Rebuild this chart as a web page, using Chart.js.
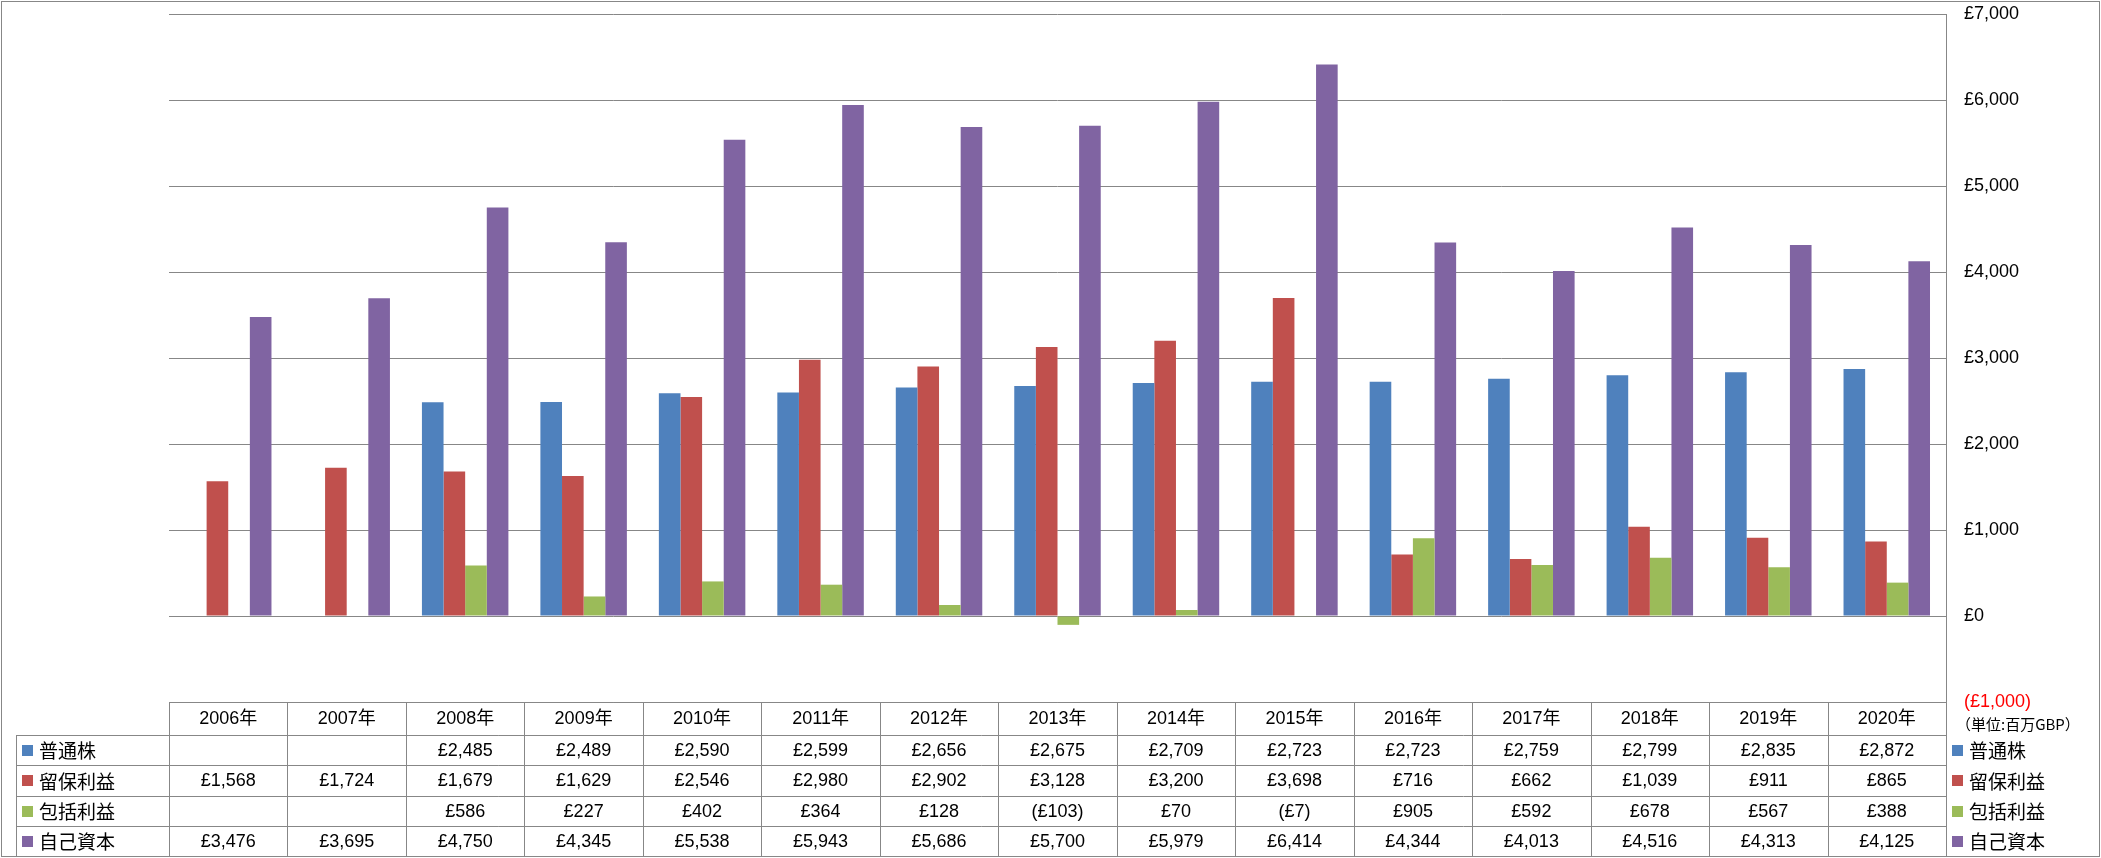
<!DOCTYPE html>
<html>
<head>
<meta charset="utf-8">
<script src="https://cdn.jsdelivr.net/npm/chart.js@4"></script>
<style>
  html, body { margin: 0; padding: 0; background: #fff; }
  #wrap { width: 2101px; height: 858px; position: relative; }
</style>
</head>
<body>
<div id="wrap"><canvas id="chart"></canvas></div>
<script>
const years = ['2006年', '2007年', '2008年', '2009年', '2010年', '2011年', '2012年', '2013年',
  '2014年', '2015年', '2016年', '2017年', '2018年', '2019年', '2020年'];
const seriesNames = ['普通株', '留保利益', '包括利益', '自己資本'];
const seriesColors = ['#4F81BD', '#C0504D', '#9BBB59', '#8064A2'];
const commonStock = [null, null, 2485, 2489, 2590, 2599, 2656, 2675, 2709, 2723, 2723, 2759, 2799, 2835, 2872];
const retainedEarnings = [1568, 1724, 1679, 1629, 2546, 2980, 2902, 3128, 3200, 3698, 716, 662, 1039, 911, 865];
const comprehensiveIncome = [null, null, 586, 227, 402, 364, 128, -103, 70, -7, 905, 592, 678, 567, 388];
const totalEquity = [3476, 3695, 4750, 4345, 5538, 5943, 5686, 5700, 5979, 6414, 4344, 4013, 4516, 4313, 4125];
const unitLabel = '（単位:百万GBP）';

const lineColor = '#878787';
const numFont = '18px "Liberation Sans", "Noto Sans CJK JP", sans-serif';
const jpFont = '19px "Noto Sans CJK JP", sans-serif';

function money(v) {
  if (v === null || v === undefined) return '';
  const s = '£' + Math.abs(v).toLocaleString('en-US');
  return v < 0 ? '(' + s + ')' : s;
}

const allSeries = [commonStock, retainedEarnings, comprehensiveIncome, totalEquity];

// draws the data table under the plot, the right legend and the outer frame
const tablePlugin = {
  id: 'dataTable',
  afterDraw(chart) {
    const ctx = chart.ctx;
    const area = chart.chartArea;
    const x = chart.scales.x;
    const colW = (area.right - area.left) / years.length;
    const top = area.bottom;
    const headBottom = top + 33;
    const bottom = 856;
    const rowH = (bottom - headBottom) / 4;
    const legendLeft = 16.5;

    ctx.save();
    ctx.strokeStyle = lineColor;
    ctx.lineWidth = 1;

    ctx.beginPath();
    // header top
    ctx.moveTo(area.left, top + 0.5); ctx.lineTo(area.right, top + 0.5);
    // row lines
    for (let r = 0; r <= 4; r++) {
      const y = Math.round(headBottom + r * rowH) + 0.5;
      ctx.moveTo(legendLeft, y); ctx.lineTo(area.right, y);
    }
    // vertical lines
    for (let i = 0; i <= years.length; i++) {
      const xx = Math.round(area.left + i * colW) + 0.5;
      ctx.moveTo(xx, top); ctx.lineTo(xx, bottom);
    }
    ctx.moveTo(legendLeft, headBottom); ctx.lineTo(legendLeft, bottom);
    // axis line carried down to the bottom
    ctx.moveTo(Math.round(area.right) + 0.5, area.top); ctx.lineTo(Math.round(area.right) + 0.5, bottom + 1);
    ctx.stroke();

    // outer frame
    ctx.strokeRect(1.5, 1.5, 2098, 855);

    ctx.fillStyle = '#000';
    ctx.textBaseline = 'middle';
    ctx.textAlign = 'center';
    ctx.font = numFont;
    years.forEach((yr, i) => {
      const cx = x.getPixelForValue(i);
      ctx.fillText(yr, cx, (top + headBottom) / 2 + 1);
      allSeries.forEach((vals, r) => {
        const cy = headBottom + (r + 0.5) * rowH + 1;
        ctx.fillText(money(vals[i]), cx, cy);
      });
    });

    // row labels, left and right
    ctx.textAlign = 'left';
    seriesNames.forEach((name, r) => {
      const cy = headBottom + (r + 0.5) * rowH;
      ctx.fillStyle = seriesColors[r];
      ctx.fillRect(22, Math.round(cy - 5), 11, 11);
      ctx.fillRect(1952, Math.round(cy - 5), 11, 11);
      ctx.fillStyle = '#000';
      ctx.font = jpFont;
      ctx.fillText(name, 39, cy + 1);
      ctx.fillText(name, 1969, cy + 1);
    });

    ctx.font = '15px "Noto Sans CJK JP", sans-serif';
    ctx.fillText(unitLabel, 1956, 724);
    ctx.restore();
  }
};

new Chart(document.getElementById('chart'), {
  type: 'bar',
  data: {
    labels: years,
    datasets: seriesNames.map((name, i) => ({
      label: name,
      data: allSeries[i],
      backgroundColor: seriesColors[i],
      borderWidth: 0,
      categoryPercentage: 0.73,
      barPercentage: 1.0
    }))
  },
  options: {
    responsive: true,
    maintainAspectRatio: false,
    animation: false,
    layout: { padding: { left: 169, top: 14, right: 0, bottom: 156 } },
    plugins: { legend: { display: false }, tooltip: { enabled: false } },
    scales: {
      x: { display: false },
      y: {
        position: 'right',
        min: -1000,
        max: 7000,
        afterFit(scale) {
          scale.width = 155;
          scale.paddingTop = 0;
          scale.paddingBottom = 0;
        },
        ticks: {
          stepSize: 1000,
          padding: 18,
          font: { family: '"Liberation Sans", sans-serif', size: 18 },
          color: ctx => (ctx.tick && ctx.tick.value < 0 ? '#FF0000' : '#000'),
          callback: v => money(v)
        },
        grid: { color: lineColor, drawTicks: false },
        border: { display: true, color: lineColor }
      }
    }
  },
  plugins: [tablePlugin]
});
</script>
</body>
</html>
